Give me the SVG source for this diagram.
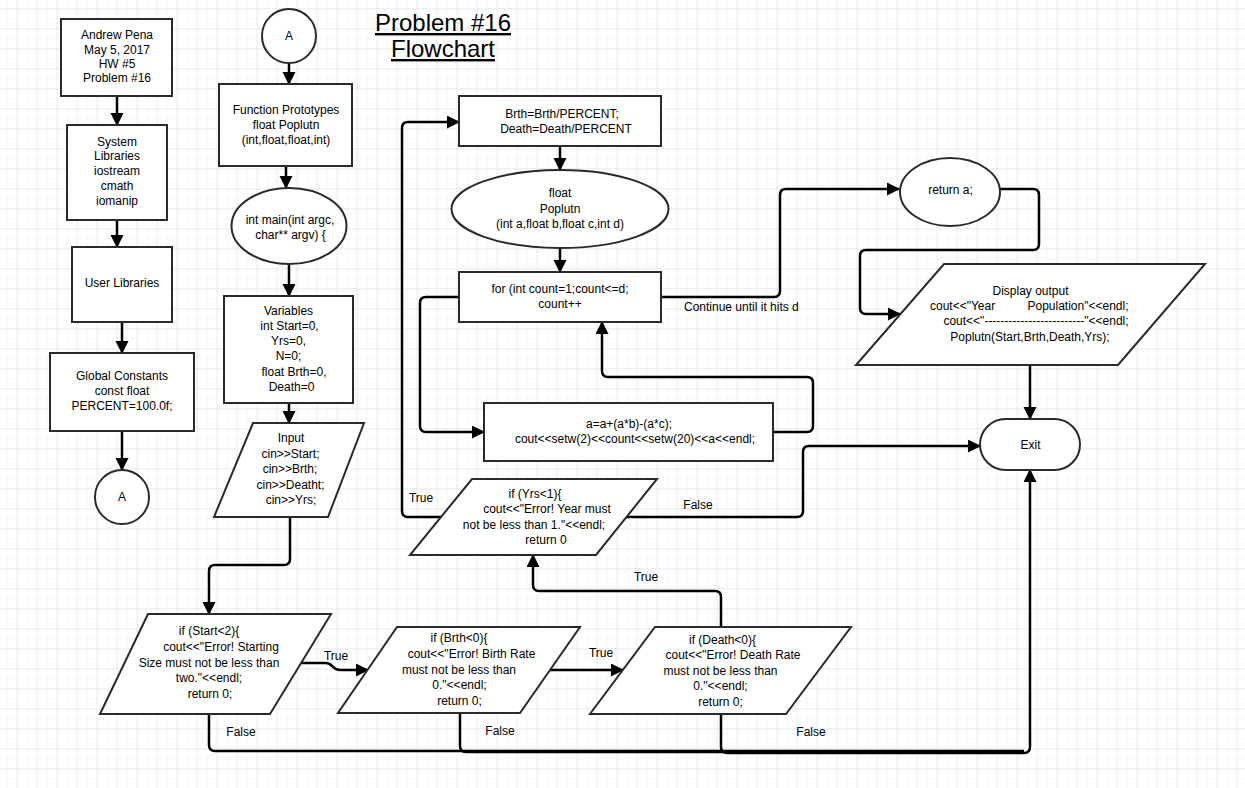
<svg xmlns="http://www.w3.org/2000/svg" width="1245" height="788" viewBox="0 0 1245 788">
<style>
text{font-family:"Liberation Sans",Arial,sans-serif;font-size:12px;fill:#000}
.m{text-anchor:middle}
.s{fill:#fff;stroke:#2a2a2a;stroke-width:2}
.c{fill:none;stroke:#000;stroke-width:2.5;marker-end:url(#ah)}
.n{fill:none;stroke:#000;stroke-width:2.5}
.t{font-size:24px;text-decoration:underline}
</style>
<defs>
<pattern id="g1" patternUnits="userSpaceOnUse" width="10" height="10" x="6.7" y="8.3"><path d="M10 0 L0 0 0 10" fill="none" stroke="#f1f1f8" stroke-width="1"/></pattern>
<pattern id="g2" patternUnits="userSpaceOnUse" width="20" height="20" x="16.7" y="8.3"><path d="M20 0 L0 0 0 20" fill="none" stroke="#dcdcef" stroke-width="1"/></pattern>
<marker id="ah" markerUnits="userSpaceOnUse" markerWidth="13" markerHeight="14" refX="12" refY="6.5" orient="auto"><path d="M0,0 L13,6.5 L0,13 z" fill="#000"/></marker>
</defs>
<rect width="1245" height="788" fill="#fff"/>
<rect width="1245" height="788" fill="url(#g1)"/>
<rect width="1245" height="788" fill="url(#g2)"/>

<g id="title">
<text class="m t" x="443" y="31">Problem #16</text>
<text class="m t" x="443" y="57">Flowchart</text>
</g>

<g id="connectors">
<path class="c" d="M117,96 L117,125"/>
<path class="c" d="M117,220 L117,247"/>
<path class="c" d="M122,322 L122,353"/>
<path class="c" d="M122,431 L122,470"/>
<path class="c" d="M289,63 L289,84"/>
<path class="c" d="M286,166 L286,188"/>
<path class="c" d="M289,264 L289,296"/>
<path class="c" d="M289,403 L289,423"/>
<path class="c" d="M290,517 L290,559 Q290,565 284,565 L215,565 Q209,565 209,571 L209,614"/>
<path class="c" d="M301,663 L326,663 C333,663 332,670 340,670 L368,670"/>
<path class="c" d="M550,670 L623,670"/>
<path class="c" d="M721,627 L721,597 Q721,591 715,591 L539,591 Q533,591 533,585 L533,555"/>
<path class="c" d="M441,517 L408,517 Q402,517 402,511 L402,128 Q402,122 408,122 L459,122"/>
<path class="c" d="M626,517 L797,517 Q803,517 803,511 L803,452 Q803,446 809,446 L980,446"/>
<path class="c" d="M560,146 L560,170"/>
<path class="c" d="M560,248 L560,272"/>
<path class="c" d="M459,297 L426,297 Q420,297 420,303 L420,426 Q420,432 426,432 L484,432"/>
<path class="c" d="M773,432 L807,432 Q813,432 813,426 L813,383 Q813,377 807,377 L608,377 Q602,377 602,371 L602,322"/>
<path class="c" d="M661,297 L774,297 Q780,297 780,291 L780,195 Q780,189 786,189 L899,189"/>
<path class="c" d="M1000,189 L1033,189 Q1039,189 1039,195 L1039,244 Q1039,250 1033,250 L866,250 Q860,250 860,256 L860,308 Q860,314 866,314 L900,314"/>
<path class="c" d="M1030,365 L1030,419"/>
<path class="n" d="M209,714 L209,745 Q209,751 215,751 L1024,751"/>
<path class="n" d="M460,713 L460,746 Q460,752 466,752 L1024,752"/>
<path class="c" d="M721,714 L721,747 Q721,753 727,753 L1024,753 Q1030,753 1030,747 L1030,470"/>
<text x="336" y="660" class="m">True</text>
<text x="601" y="657" class="m">True</text>
<text x="646" y="581" class="m">True</text>
<text x="421" y="502" class="m">True</text>
<text x="698" y="509" class="m">False</text>
<text x="241" y="736" class="m">False</text>
<text x="500" y="735" class="m">False</text>
<text x="811" y="736" class="m">False</text>
<text x="684" y="311">Continue until it hits d</text>
</g>

<g id="header">
<rect class="s" x="61" y="19" width="111" height="77"/>
<text class="m" x="117" y="39">Andrew Pena</text>
<text class="m" x="117" y="53.5">May 5, 2017</text>
<text class="m" x="117" y="67.5">HW #5</text>
<text class="m" x="117" y="82">Problem #16</text>
</g>

<g id="syslib">
<rect class="s" x="67" y="125" width="100" height="95"/>
<text class="m" x="117" y="146">System</text>
<text class="m" x="117" y="160">Libraries</text>
<text class="m" x="117" y="175">iostream</text>
<text class="m" x="117" y="189.5">cmath</text>
<text class="m" x="117" y="205">iomanip</text>
</g>

<g id="userlib">
<rect class="s" x="72" y="247" width="100" height="75"/>
<text class="m" x="122" y="287">User Libraries</text>
</g>

<g id="globals">
<rect class="s" x="50" y="353" width="144" height="78"/>
<text class="m" x="122" y="380">Global Constants</text>
<text class="m" x="122" y="395">const float</text>
<text class="m" x="122" y="410">PERCENT=100.0f;</text>
</g>

<g id="connA1">
<circle class="s" cx="122" cy="497" r="27"/>
<text class="m" x="122" y="501">A</text>
</g>

<g id="connA2">
<circle class="s" cx="289" cy="36" r="27"/>
<text class="m" x="289" y="40">A</text>
</g>

<g id="prototypes">
<rect class="s" x="219" y="84" width="133" height="82"/>
<text class="m" x="286" y="114">Function Prototypes</text>
<text class="m" x="286" y="129">float Poplutn</text>
<text class="m" x="286" y="144">(int,float,float,int)</text>
</g>

<g id="main">
<ellipse class="s" cx="289" cy="226" rx="57.5" ry="38"/>
<text class="m" x="290" y="224">int main(int argc,</text>
<text class="m" x="290.5" y="238.5">char** argv) {</text>
</g>

<g id="variables">
<rect class="s" x="224" y="296" width="129" height="107"/>
<text class="m" x="288.5" y="315">Variables</text>
<text class="m" x="289.5" y="330">int Start=0,</text>
<text class="m" x="288.5" y="345">Yrs=0,</text>
<text class="m" x="288.5" y="360">N=0;</text>
<text class="m" x="294" y="376">float Brth=0,</text>
<text class="m" x="291.5" y="391">Death=0</text>
</g>

<g id="input">
<polygon class="s" points="253,423 364,423 328,517 214,517"/>
<text class="m" x="291" y="442">Input</text>
<text class="m" x="290.5" y="457.5">cin&gt;&gt;Start;</text>
<text class="m" x="290" y="473">cin&gt;&gt;Brth;</text>
<text class="m" x="290.5" y="488.5">cin&gt;&gt;Deatht;</text>
<text class="m" x="291" y="504">cin&gt;&gt;Yrs;</text>
</g>

<g id="ifStart">
<polygon class="s" points="148,614 331,614 270,714 100,714"/>
<text class="m" x="209" y="635">if (Start&lt;2){</text>
<text class="m" x="221" y="651">cout&lt;&lt;"Error! Starting</text>
<text class="m" x="209" y="667">Size must not be less than</text>
<text class="m" x="209" y="682">two."&lt;&lt;endl;</text>
<text class="m" x="210" y="697.5">return 0;</text>
</g>

<g id="ifBrth">
<polygon class="s" points="397,627 580,627 520,713 338,713"/>
<text class="m" x="459" y="642">if (Brth&lt;0){</text>
<text class="m" x="471.5" y="658">cout&lt;&lt;"Error! Birth Rate</text>
<text class="m" x="459" y="673.5">must not be less than</text>
<text class="m" x="459.5" y="689">0."&lt;&lt;endl;</text>
<text class="m" x="459.5" y="705">return 0;</text>
</g>

<g id="ifDeath">
<polygon class="s" points="655,627 851,627 786,714 590,714"/>
<text class="m" x="722.5" y="643.5">if (Death&lt;0){</text>
<text class="m" x="733" y="659">cout&lt;&lt;"Error! Death Rate</text>
<text class="m" x="720.5" y="674.5">must not be less than</text>
<text class="m" x="720.5" y="690">0."&lt;&lt;endl;</text>
<text class="m" x="720.5" y="706">return 0;</text>
</g>

<g id="ifYrs">
<polygon class="s" points="472,479 657,479 596,555 410,555"/>
<text class="m" x="535" y="498">if (Yrs&lt;1){</text>
<text class="m" x="547" y="513">cout&lt;&lt;"Error! Year must</text>
<text class="m" x="534" y="529">not be less than 1."&lt;&lt;endl;</text>
<text class="m" x="546" y="543.5">return 0</text>
</g>

<g id="percent">
<rect class="s" x="459" y="96" width="202" height="50"/>
<text class="m" x="562" y="118">Brth=Brth/PERCENT;</text>
<text class="m" x="566" y="132.5">Death=Death/PERCENT</text>
</g>

<g id="poplutn">
<ellipse class="s" cx="560" cy="209" rx="108.5" ry="39"/>
<text class="m" x="560" y="197">float</text>
<text class="m" x="560" y="212.5">Poplutn</text>
<text class="m" x="560" y="227.5">(int a,float b,float c,int d)</text>
</g>

<g id="forloop">
<rect class="s" x="459" y="272" width="202" height="50"/>
<text class="m" x="560" y="293">for (int count=1;count&lt;=d;</text>
<text class="m" x="560" y="307.5">count++</text>
</g>

<g id="calc">
<rect class="s" x="484" y="403" width="289" height="58"/>
<text class="m" x="629" y="428">a=a+(a*b)-(a*c);</text>
<text class="m" x="635" y="443">cout&lt;&lt;setw(2)&lt;&lt;count&lt;&lt;setw(20)&lt;&lt;a&lt;&lt;endl;</text>
</g>

<g id="returnA">
<ellipse class="s" cx="950" cy="192" rx="50" ry="34"/>
<text class="m" x="950.5" y="193.5">return a;</text>
</g>

<g id="display">
<polygon class="s" points="944,264 1205,264 1118,365 856,365"/>
<text class="m" x="1030.5" y="295">Display output</text>
<text y="310"><tspan x="930">cout&lt;&lt;"Year</tspan><tspan x="1027.5">Population"&lt;&lt;endl;</tspan></text>
<text class="m" x="1036" y="325">cout&lt;&lt;"-------------------------"&lt;&lt;endl;</text>
<text class="m" x="1030" y="341">Poplutn(Start,Brth,Death,Yrs);</text>
</g>

<g id="exit">
<rect class="s" x="980" y="419" width="100" height="51" rx="25.5" ry="25.5"/>
<text class="m" x="1030.5" y="449">Exit</text>
</g>
</svg>
